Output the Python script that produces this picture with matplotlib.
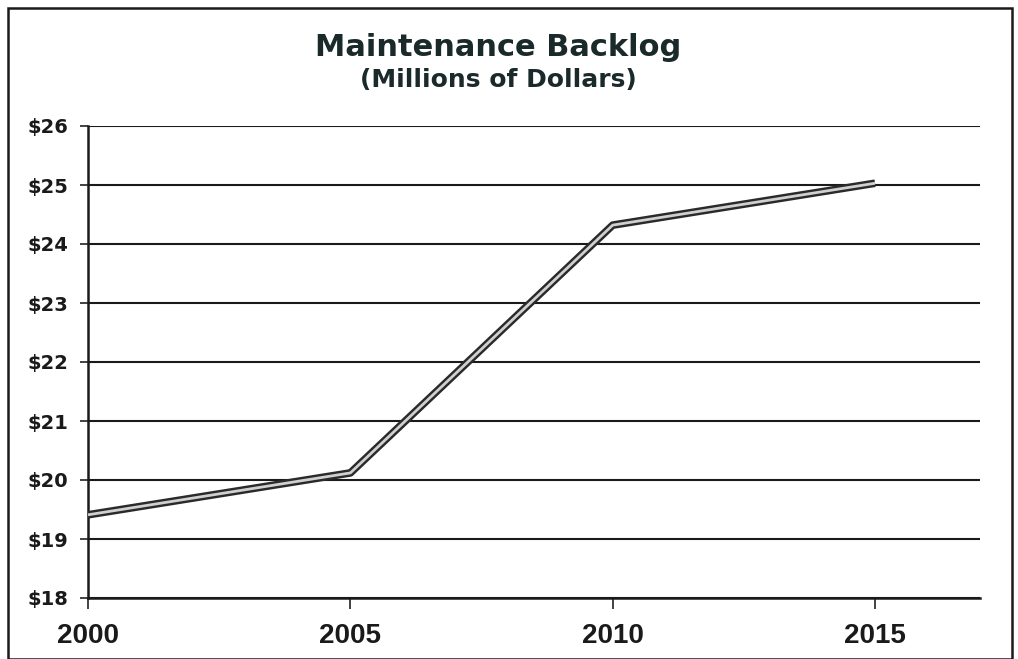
import matplotlib
matplotlib.use("Agg")
import matplotlib.pyplot as plt
from matplotlib.patches import Rectangle

years = [2000, 2005, 2010, 2015]
backlog = [19.41, 20.12, 24.32, 25.03]
y_ticks = [18, 19, 20, 21, 22, 23, 24, 25, 26]
y_labels = ["$%d" % v for v in y_ticks]
x_ticks = [2000, 2005, 2010, 2015]
x_labels = ["2000", "2005", "2010", "2015"]

W, H = 1018, 659
fig = plt.figure(figsize=(W / 100, H / 100), dpi=100)
fig.patch.set_facecolor("white")
font = "Liberation Sans"
tfont = "DejaVu Sans"

ax = fig.add_axes([88 / W, 1 - 598 / H, (980 - 88) / W, (598 - 126) / H])
ax.set_xlim(2000, 2017)
ax.set_ylim(18, 26)
ax.set_yticks(y_ticks)
ax.set_yticklabels(y_labels, fontfamily=tfont, fontweight="bold", fontsize=14, color="#1a1a1a")
ax.set_xticks(x_ticks)
ax.set_xticklabels(x_labels, fontfamily=font, fontweight="bold", fontsize=20, color="#1a1a1a")
ax.tick_params(axis="x", length=8, width=1.2, pad=10, color="#222")
ax.tick_params(axis="y", length=6, width=1.2, pad=8, color="#222")
for s in ["top", "right"]:
    ax.spines[s].set_visible(False)
for s in ["left", "bottom"]:
    ax.spines[s].set_linewidth(1.8)
    ax.spines[s].set_color("#1a1a1a")
ax.grid(axis="y", color="#1a1a1a", linewidth=1.5)
ax.set_axisbelow(True)

ax.plot(years, backlog, color="#2a2a2a", linewidth=5.5, solid_capstyle="butt", zorder=3)
ax.plot(years, backlog, color="#d0d0d0", linewidth=2, solid_capstyle="butt", zorder=4)

fig.text(498 / W, 1 - 48 / H, "Maintenance Backlog", ha="center", va="center",
         fontfamily=tfont, fontweight="bold", fontsize=22, color="#1a2a2a")
fig.text(498 / W, 1 - 80 / H, "(Millions of Dollars)", ha="center", va="center",
         fontfamily=tfont, fontweight="bold", fontsize=18, color="#1a2a2a")

fig.patches.append(Rectangle((8 / W, 0), (1012 - 8) / W, 1 - 8 / H, transform=fig.transFigure,
                             fill=False, edgecolor="#1a1a1a", linewidth=1.8))

fig.savefig("out.png", dpi=100)
